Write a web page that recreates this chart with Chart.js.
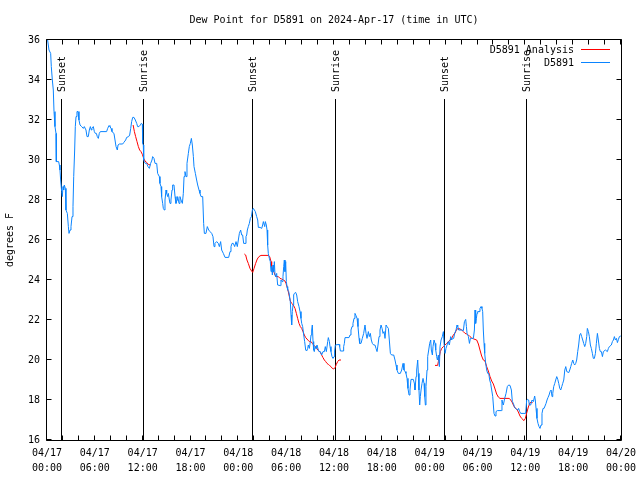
<!DOCTYPE html>
<html><head><meta charset="utf-8">
<script src="https://cdn.jsdelivr.net/npm/chart.js@4.4.1/dist/chart.umd.min.js"></script>
<style>html,body{margin:0;padding:0;background:#fff;}canvas{display:block;}</style>
</head><body>
<canvas id="c" width="640" height="480"></canvas>
<script>
const titleText = 'Dew Point for D5891 on 2024-Apr-17 (time in UTC)';
const yAxisLabel = 'degrees F';
const seriesNames = ['D5891 Analysis', 'D5891'];
const seriesColors = ['#ff0000', '#0a84ff'];

// x tick labels (hours since 04/17 00:00 UTC)
const tickHours = [0, 6, 12, 18, 24, 30, 36, 42, 48, 54, 60, 66, 72];
const tickDates = ['04/17','04/17','04/17','04/17','04/18','04/18','04/18','04/18','04/19','04/19','04/19','04/19','04/20'];
const tickTimes = ['00:00','06:00','12:00','18:00','00:00','06:00','12:00','18:00','00:00','06:00','12:00','18:00','00:00'];

// sunrise / sunset markers
const sunHours = [1.76, 12.06, 25.76, 36.16, 49.85, 60.12];
const sunLabels = ['Sunset', 'Sunrise', 'Sunset', 'Sunrise', 'Sunset', 'Sunrise'];

// D5891 observations (hours, dew point F)
const blueHours = [0.08,0.25,0.46,0.54,0.67,0.79,0.88,1.00,1.13,1.17,1.46,1.55,1.63,1.71,1.84,1.92,2.01,2.09,2.17,2.30,2.38,2.55,2.68,2.76,2.89,3.01,3.14,3.26,3.35,3.47,3.55,3.64,3.76,3.89,4.01,4.14,4.35,4.56,4.68,4.89,5.02,5.18,5.31,5.44,5.56,5.64,5.81,5.94,6.06,6.19,6.31,6.44,6.56,6.69,7.48,7.61,7.78,7.90,8.03,8.15,8.40,8.53,8.66,8.82,8.91,9.07,9.49,9.62,9.87,9.99,10.24,10.37,10.50,10.62,10.75,10.91,11.08,11.25,11.37,11.54,11.71,11.83,11.96,12.00,12.08,12.13,12.21,12.33,12.50,12.67,12.84,13.00,13.17,13.25,13.42,13.55,13.76,13.88,14.09,14.17,14.30,14.38,14.51,14.59,14.72,14.80,14.93,15.01,15.14,15.22,15.35,15.43,15.55,15.68,15.76,15.93,16.06,16.18,16.31,16.39,16.56,16.68,16.81,16.98,17.10,17.19,17.31,17.44,17.56,17.73,17.85,17.98,18.11,18.23,18.36,18.44,18.61,18.77,18.90,19.07,19.19,19.32,19.53,19.65,19.74,19.94,20.11,20.28,20.45,20.66,20.82,20.95,21.07,21.28,21.49,21.62,21.78,21.91,22.12,22.33,22.79,22.96,23.08,23.21,23.37,23.54,23.71,23.87,24.00,24.13,24.29,24.42,24.54,24.67,24.84,24.96,25.05,25.13,25.25,25.38,25.51,25.64,25.76,25.88,26.01,26.13,26.30,26.43,26.51,26.72,26.93,27.05,27.14,27.31,27.39,27.51,27.60,27.68,27.76,27.89,28.01,28.10,28.18,28.27,28.35,28.43,28.52,28.60,28.68,28.81,28.93,29.27,29.35,29.48,29.60,29.69,29.77,29.85,29.94,30.02,30.11,30.19,30.32,30.40,30.52,30.61,30.69,30.77,30.86,30.94,31.03,31.19,31.32,31.44,31.61,31.74,31.86,31.95,32.07,32.20,32.32,32.45,32.57,32.70,32.78,32.91,33.03,33.12,33.20,33.28,33.37,33.45,33.53,33.62,33.74,33.87,34.00,34.12,34.29,34.45,34.62,34.79,34.91,35.04,35.21,35.29,35.42,35.50,35.62,35.75,35.88,36.00,36.08,36.17,36.63,36.71,36.80,37.13,37.21,37.30,37.38,37.88,38.01,38.13,38.26,38.38,38.51,38.63,38.76,38.89,39.01,39.14,39.22,39.39,39.55,39.72,39.89,40.02,40.14,40.31,40.43,40.56,40.68,40.81,40.98,41.14,41.27,41.40,41.52,41.65,41.77,41.90,42.03,42.15,42.28,42.40,42.53,42.65,42.82,42.94,43.07,43.23,43.49,43.65,43.78,43.90,44.07,44.32,44.49,44.66,44.78,44.91,45.03,45.16,45.28,45.41,45.53,45.66,45.95,46.08,46.16,46.29,46.37,46.50,46.58,46.66,46.75,46.83,46.92,47.04,47.17,47.29,47.38,47.46,47.54,47.67,47.75,47.88,48.00,48.13,48.21,48.34,48.42,48.55,48.67,48.76,48.88,48.97,49.09,49.22,49.30,49.43,49.59,49.72,49.80,49.93,50.05,50.18,50.34,50.47,50.64,50.76,50.89,51.01,51.14,51.31,51.43,51.52,51.64,52.02,52.23,52.36,52.52,52.61,52.69,52.86,52.99,53.11,53.28,53.48,53.61,53.69,53.77,53.86,53.94,54.02,54.19,54.31,54.44,54.56,54.65,54.73,54.82,54.90,55.03,55.15,55.28,55.41,55.53,55.65,55.78,55.91,55.99,56.07,56.20,56.32,56.49,56.99,57.07,57.16,57.24,57.41,57.58,57.74,57.91,58.08,58.25,58.37,58.50,58.62,58.75,58.91,59.04,59.16,59.29,59.42,60.04,60.17,60.25,60.42,60.50,60.67,60.84,61.01,61.17,61.25,61.34,61.46,61.59,61.72,61.84,61.97,62.09,62.22,62.35,62.47,62.60,62.72,62.85,62.98,63.10,63.23,63.35,63.44,63.56,63.69,63.81,63.94,64.07,64.19,64.32,64.44,64.57,64.69,64.82,64.95,65.07,65.20,65.45,65.57,65.70,65.81,65.95,66.07,66.19,66.32,66.44,66.57,66.69,66.82,66.94,67.07,67.20,67.32,67.45,67.57,67.70,67.78,67.91,68.03,68.16,68.28,68.41,68.53,68.66,68.79,68.91,69.04,69.16,69.29,69.41,69.54,69.67,69.79,70.04,70.29,70.42,70.54,70.79,70.92,71.05,71.17,71.30,71.43,71.55,71.68,71.80,71.97];
const blueDew = [36.0,35.5,35.33,34.67,34.0,33.5,32.42,31.67,31.33,29.92,29.92,29.75,29.5,29.0,28.42,28.17,28.67,28.5,28.75,28.58,27.5,27.33,26.67,26.33,26.5,26.67,27.17,27.67,29.17,30.5,31.67,32.17,32.42,32.42,32.0,31.75,31.67,31.58,31.67,31.5,31.17,31.17,31.5,31.67,31.5,31.58,31.67,31.42,31.33,31.33,31.17,31.08,31.33,31.42,31.42,31.58,31.72,31.67,31.58,31.42,31.33,31.0,30.67,30.5,30.75,30.8,30.8,30.87,31.0,31.13,31.17,31.25,31.58,31.92,32.13,32.13,32.0,31.83,31.67,31.67,31.75,31.83,31.8,30.83,30.75,30.0,29.92,29.83,29.83,29.67,29.58,29.83,30.0,30.17,30.08,29.83,29.83,29.33,29.17,28.83,28.67,28.17,27.83,27.58,27.5,28.0,28.5,28.33,28.17,28.33,28.0,27.83,28.0,28.5,28.75,28.75,28.17,27.83,28.0,28.17,27.83,28.17,28.0,27.83,28.33,29.17,29.42,29.17,29.83,30.33,30.67,30.83,31.08,30.75,30.17,29.67,29.33,29.0,28.75,28.5,28.33,28.17,28.17,26.83,26.33,26.33,26.67,26.5,26.42,26.33,26.17,25.67,25.83,25.92,25.83,25.67,25.92,25.5,25.33,25.13,25.13,25.42,25.67,25.83,25.83,25.67,25.92,25.67,26.0,26.33,26.5,26.25,26.25,25.83,25.83,26.17,26.25,26.5,26.67,26.83,27.08,27.17,27.5,27.58,27.5,27.42,27.17,27.0,26.63,26.63,26.58,26.75,26.92,26.67,26.92,26.75,26.5,25.75,25.33,25.08,24.92,24.42,24.67,24.25,24.75,24.42,24.92,24.25,24.17,24.33,23.75,23.72,24.0,23.92,24.17,24.67,25.0,24.42,24.92,23.92,23.67,23.5,23.42,23.25,22.92,22.25,21.75,22.42,22.75,23.25,23.33,23.38,23.25,22.92,22.67,22.42,22.08,21.83,21.67,21.25,20.92,20.5,20.45,20.58,20.75,20.58,20.92,21.25,21.5,21.75,20.92,20.5,20.42,20.67,20.58,20.75,20.55,20.42,20.42,20.25,20.42,20.42,20.67,20.42,20.92,21.12,20.92,20.67,20.42,20.17,20.08,20.17,20.45,20.75,20.78,20.67,20.45,20.45,20.67,20.83,21.12,21.12,21.25,21.5,21.67,21.83,22.08,22.33,22.22,22.08,21.67,21.08,20.83,20.83,21.08,21.33,21.75,21.33,21.08,21.42,21.17,21.33,21.0,20.83,20.75,20.75,20.58,20.42,20.75,21.17,21.5,21.75,21.58,21.33,21.42,21.08,21.75,21.67,21.58,21.0,20.33,20.25,20.25,20.0,19.75,19.5,19.33,19.33,19.5,19.83,19.5,19.42,19.33,19.08,18.58,18.25,18.5,19.03,19.03,18.83,18.5,19.17,19.5,20.0,19.33,18.5,17.75,18.17,18.5,18.83,19.08,18.83,18.17,17.75,18.67,19.5,20.17,20.5,20.83,21.0,20.5,20.25,20.67,21.0,20.83,20.5,20.17,20.0,20.25,19.67,20.67,21.0,21.17,21.42,20.83,20.33,20.58,20.75,20.92,20.75,21.17,21.0,21.08,21.08,21.33,21.5,21.75,21.67,21.5,21.5,21.47,21.92,22.03,21.67,21.33,21.17,20.83,21.08,21.08,21.08,21.5,22.5,21.83,22.08,22.33,22.42,22.42,22.58,22.67,22.58,22.42,21.5,20.83,20.33,19.83,19.5,19.33,19.33,19.0,18.83,18.5,18.17,17.75,17.33,17.2,17.42,17.47,17.47,18.0,17.83,17.75,18.08,18.33,18.67,18.75,18.73,18.5,17.92,17.83,17.67,17.58,17.53,17.5,17.58,17.42,17.33,17.33,18.0,18.03,18.0,17.75,17.75,18.0,17.92,18.2,18.0,17.58,17.08,16.83,16.67,16.58,16.75,17.33,17.58,17.58,17.7,17.83,18.0,18.13,18.25,18.42,18.5,18.17,18.33,18.67,18.83,19.0,19.17,19.03,18.83,18.58,18.5,18.67,18.83,19.0,19.5,19.67,19.42,19.37,19.5,19.67,19.83,20.0,19.83,19.75,19.83,20.0,20.42,20.75,21.25,21.33,21.17,21.0,20.83,20.67,20.83,21.17,21.58,21.42,21.17,20.75,20.58,20.33,20.08,20.08,20.33,20.83,21.33,21.0,20.58,20.42,20.42,20.17,20.42,20.5,20.42,20.58,20.67,20.75,20.92,21.0,21.17,21.0,21.08,20.87,21.03,21.17,21.2];

// D5891 Analysis (null = gap between analysis windows)
const redHours = [10.80,10.96,11.12,11.29,11.46,11.62,11.79,11.96,12.13,12.29,12.50,12.71,12.96,18.0,
  24.75,24.92,25.08,25.25,25.46,25.67,25.80,25.97,26.17,26.38,26.59,26.84,27.76,27.93,28.10,28.18,28.31,28.48,28.60,28.77,29.02,29.23,29.43,29.65,29.85,29.98,30.19,30.36,30.52,30.69,30.90,31.11,31.28,31.44,31.61,31.78,31.95,32.11,32.28,32.45,32.61,32.78,32.95,33.12,33.28,33.45,33.62,33.79,33.95,34.12,34.29,34.45,34.62,34.79,34.96,35.12,35.29,35.46,35.62,35.79,35.96,36.13,36.29,36.46,36.63,36.88,42.0,
  48.67,49.00,49.09,49.22,49.34,49.51,49.72,49.93,50.13,50.34,50.55,50.76,50.97,51.18,51.39,51.60,51.81,52.02,52.23,52.44,52.65,52.86,53.06,53.27,53.48,53.69,53.90,54.11,54.31,54.52,54.73,54.94,55.15,55.36,55.57,55.78,55.99,56.20,56.40,56.61,56.82,57.99,58.16,58.33,58.50,58.70,58.91,59.12,59.33,59.54,59.83,60.00,60.17,60.38,60.59,60.92];
const redDew = [31.75,31.42,31.17,30.92,30.67,30.5,30.42,30.28,30.08,29.95,29.88,29.78,29.75,null,
  25.3,25.25,25.0,24.83,24.58,24.45,24.38,24.58,24.83,25.05,25.17,25.23,25.23,25.17,24.92,24.67,24.5,24.38,24.25,24.17,24.17,24.08,24.05,24.0,23.95,23.83,23.55,23.25,22.95,22.83,22.75,22.58,22.33,22.08,21.83,21.67,21.58,21.42,21.25,21.12,21.05,20.97,20.92,20.92,20.83,20.75,20.67,20.62,20.5,20.45,20.38,20.25,20.12,20.0,19.92,19.83,19.78,19.72,19.67,19.58,19.55,19.62,19.78,19.92,20.0,20.0,null,
  19.73,19.73,19.92,20.17,20.42,20.58,20.67,20.75,20.83,20.92,21.0,21.08,21.25,21.35,21.53,21.58,21.55,21.5,21.42,21.33,21.3,21.25,21.17,21.1,21.06,21.03,21.0,20.8,20.5,20.2,20.0,19.95,19.67,19.45,19.17,18.95,18.8,18.55,18.3,18.15,18.08,18.08,18.0,17.9,17.75,17.6,17.55,17.4,17.2,17.08,16.97,17.08,17.35,17.65,17.87,17.87];

const FONT = "'DejaVu Sans Mono', 'Liberation Mono', monospace";
Chart.defaults.font.family = FONT;
Chart.defaults.font.size = 10;
Chart.defaults.color = '#000';

const decor = {
  id: 'decor',
  beforeDatasetsDraw(chart) {
    const {ctx, chartArea: a, scales: {x}} = chart;
    ctx.save();
    ctx.strokeStyle = '#000'; ctx.lineWidth = 1;
    ctx.fillStyle = '#000';
    ctx.font = '10px ' + FONT;
    sunHours.forEach((h, i) => {
      const px = Math.round(x.getPixelForValue(h)) + 0.5;
      ctx.beginPath(); ctx.moveTo(px, 99); ctx.lineTo(px, a.bottom); ctx.stroke();
      ctx.save();
      ctx.translate(px + 0.5, 92);
      ctx.rotate(-Math.PI / 2);
      ctx.textAlign = 'left'; ctx.textBaseline = 'middle';
      ctx.fillText(sunLabels[i], 0, 0);
      ctx.restore();
    });
    ctx.restore();
  },
  afterDatasetsDraw(chart) {
    const {ctx, chartArea: a, scales: {x, y}} = chart;
    ctx.save();
    ctx.strokeStyle = '#000'; ctx.lineWidth = 1;
    const L = a.left - 0.5, R = a.right + 0.5, T = a.top - 0.5, B = a.bottom + 0.5;
    ctx.beginPath();
    ctx.rect(L, T, R - L, B - T);
    ctx.stroke();
    ctx.beginPath();
    x.ticks.forEach(t => {
      const px = Math.round(x.getPixelForValue(t.value)) - 0.5;
      ctx.moveTo(px, B); ctx.lineTo(px, B - 5);
      ctx.moveTo(px, T); ctx.lineTo(px, T + 5);
    });
    y.ticks.forEach(t => {
      const py = Math.round(y.getPixelForValue(t.value)) - 0.5;
      ctx.moveTo(L, py); ctx.lineTo(L + 5, py);
      ctx.moveTo(R, py); ctx.lineTo(R - 5, py);
    });
    ctx.stroke();
    ctx.restore();
  },
  afterDraw(chart) {
    const {ctx} = chart;
    ctx.save();
    ctx.font = '10px ' + FONT;
    ctx.fillStyle = '#000';
    ctx.textAlign = 'right'; ctx.textBaseline = 'middle';
    seriesNames.forEach((name, i) => {
      const yy = 50 + i * 13;
      ctx.fillText(name, 574, yy);
      ctx.strokeStyle = seriesColors[i]; ctx.lineWidth = 1;
      ctx.beginPath(); ctx.moveTo(581, yy - 0.5); ctx.lineTo(610, yy - 0.5); ctx.stroke();
    });
    ctx.restore();
  }
};

new Chart(document.getElementById('c'), {
  type: 'line',
  data: {
    datasets: [
      {
        label: seriesNames[0],
        data: redHours.map((h, i) => ({x: h, y: redDew[i]})),
        borderColor: seriesColors[0], borderWidth: 1, pointRadius: 0,
        tension: 0, spanGaps: false, fill: false, order: 2
      },
      {
        label: seriesNames[1],
        data: blueHours.map((h, i) => ({x: h, y: blueDew[i]})),
        borderColor: seriesColors[1], borderWidth: 1, pointRadius: 0,
        tension: 0, fill: false, order: 1
      }
    ]
  },
  options: {
    responsive: false,
    animation: false,
    devicePixelRatio: 1,
    layout: {padding: {left: 0, right: 19, top: 0, bottom: 0}},
    plugins: {
      legend: {display: false},
      tooltip: {enabled: false},
      title: {
        display: true, text: titleText, fullSize: false,
        font: {family: FONT, size: 10, weight: 'normal', lineHeight: 1.2},
        color: '#000', padding: {top: 14, bottom: 14}
      }
    },
    scales: {
      x: {
        type: 'linear', min: 0, max: 72,
        grid: {display: false, drawTicks: false},
        border: {display: false},
        ticks: {
          stepSize: 2, autoSkip: false, maxRotation: 0, minRotation: 0,
          padding: 6, color: '#000',
          font: {family: FONT, size: 10, lineHeight: 1.5},
          callback: (v) => {
            const i = tickHours.indexOf(v);
            return i >= 0 ? [tickDates[i], tickTimes[i]] : '';
          }
        },
        afterFit: (s) => { s.height = 40; s.paddingLeft = 0; s.paddingRight = 0; }
      },
      y: {
        min: 16, max: 36,
        grid: {display: false, drawTicks: false},
        border: {display: false},
        ticks: {stepSize: 2, padding: 7, color: '#000', font: {family: FONT, size: 10}},
        title: {display: true, text: yAxisLabel, color: '#000', font: {family: FONT, size: 10}, padding: {top: 4, bottom: 0}},
        afterFit: (s) => { s.width = 47; s.paddingTop = 0; s.paddingBottom = 0; }
      }
    }
  },
  plugins: [decor]
});
</script>
</body></html>
